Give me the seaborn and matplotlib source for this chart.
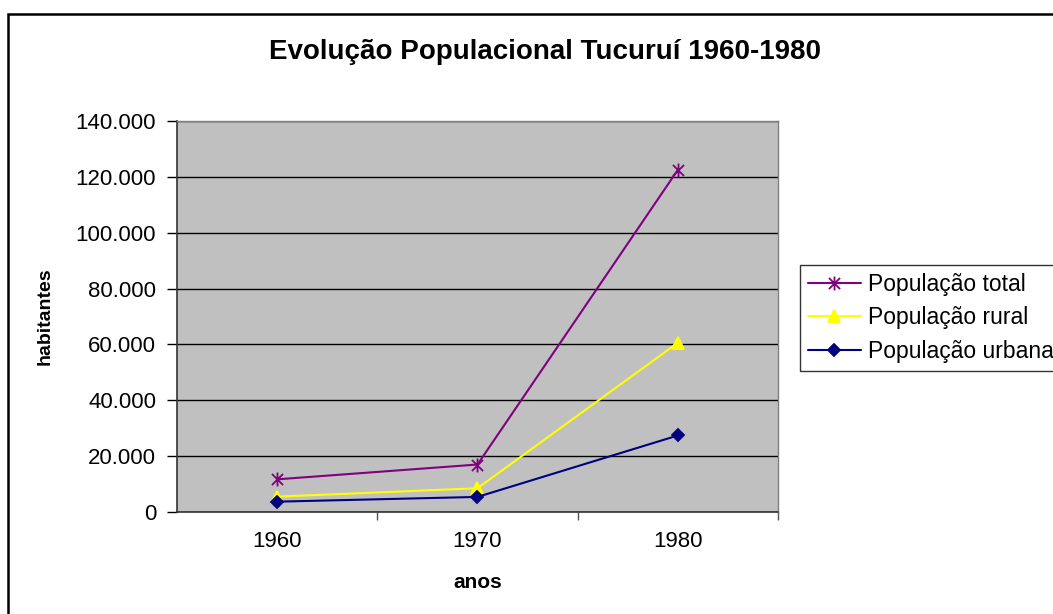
"""
    Evolução populacional de Tucuruí, 1960-1980 (estilo gráfico Excel).
"""

import pandas as pd
import matplotlib.pyplot as plt
import matplotlib.ticker as mtick
import matplotlib.patches as mpatches
from matplotlib.path import Path
import seaborn as sns

# Dados
anos = ['1960', '1970', '1980']
pop_total = [11700, 17000, 122500]
pop_rural = [5500, 8500, 60600]
pop_urbana = [3700, 5400, 27400]

series = ['População total', 'População rural', 'População urbana']

# asterisco do Excel: um X com traço vertical
ASTERISCO = Path([(0, -1), (0, 1), (-0.8, -0.8), (0.8, 0.8), (-0.8, 0.8), (0.8, -0.8)],
                 [Path.MOVETO, Path.LINETO, Path.MOVETO, Path.LINETO, Path.MOVETO, Path.LINETO])

CORES = {'População total': '#800080',
         'População rural': '#FFFF00',
         'População urbana': '#000080'}
MARCADORES = {'População total': ASTERISCO,
              'População rural': '^',
              'População urbana': 'D'}
TAMANHOS = {'População total': 10,
            'População rural': 9,
            'População urbana': 6.5}

sns.set_theme(style="white")
plt.rcParams['font.family'] = ['Liberation Sans', 'DejaVu Sans']
plt.rcParams['text.color'] = 'black'
plt.rcParams['xtick.color'] = 'black'
plt.rcParams['ytick.color'] = 'black'
plt.rcParams['axes.labelcolor'] = 'black'


def monta_dados():
    df = pd.DataFrame({'anos': anos,
                       'População total': pop_total,
                       'População rural': pop_rural,
                       'População urbana': pop_urbana})
    return df.melt(id_vars='anos', value_vars=series,
                   var_name='Série', value_name='habitantes')


df_long = monta_dados()

fig = plt.figure(figsize=(10.53, 6.14), dpi=100)
ax = fig.add_axes([177 / 1053, 1 - 512 / 614, 601 / 1053, 391 / 614])
ax.set_facecolor('#C0C0C0')

# uma chamada por série (marcadores cheios e de traço não se misturam)
for s in series:
    sub = df_long[df_long['Série'] == s]
    sns.lineplot(data=sub, x='anos', y='habitantes', color=CORES[s],
                 marker=MARCADORES[s], markersize=TAMANHOS[s], markeredgewidth=1.3,
                 markeredgecolor=CORES[s], linewidth=1.5, sort=False, ax=ax)

ax.set_xlim(-0.5, 2.5)
ax.set_ylim(0, 140000)
ax.yaxis.set_major_locator(mtick.MultipleLocator(20000))
ax.yaxis.set_major_formatter(mtick.FuncFormatter(lambda v, p: f"{int(v):,}".replace(",", ".")))
ax.grid(axis='y', color='black', linewidth=1.0)
ax.set_axisbelow(True)

ax.set_xticks(range(len(anos)))
ax.set_xticklabels(anos)
ax.xaxis.set_minor_locator(mtick.FixedLocator([0.5, 1.5, 2.5]))
ax.tick_params(axis='x', which='major', length=0, pad=14, labelsize=16)
ax.tick_params(axis='x', which='minor', length=6, width=1, color='#555555', direction='out', bottom=True)
ax.tick_params(axis='y', length=7, width=1, color='black', direction='out', pad=8, labelsize=16, left=True)

for side in ['top', 'right']:
    ax.spines[side].set_color('#808080')
    ax.spines[side].set_linewidth(1)
for side in ['left', 'bottom']:
    ax.spines[side].set_color('#333333')
    ax.spines[side].set_linewidth(1.2)

ax.set_xlabel('anos', fontsize=15, fontweight='bold')
ax.set_ylabel('habitantes', fontsize=14, fontweight='bold')
ax.xaxis.set_label_coords(0.5, -0.155)
ax.yaxis.set_label_coords(-0.205, 0.5)

fig.text(545 / 1053, 1 - 52 / 614, 'Evolução Populacional Tucuruí 1960-1980',
         ha='center', va='center', fontsize=20, fontweight='bold')

# legenda
handles = []
for s in series:
    h = plt.Line2D([], [], color=CORES[s], marker=MARCADORES[s], markersize=TAMANHOS[s],
                   markeredgewidth=1.3, markeredgecolor=CORES[s], linewidth=1.5, label=s)
    handles.append(h)
leg = fig.legend(handles=handles, loc='upper left',
                 bbox_to_anchor=(800 / 1053, 1 - 265 / 614),
                 frameon=True, fancybox=False, edgecolor='black', fontsize=16.5,
                 handlelength=2.3, handletextpad=0.3, labelspacing=0.45,
                 borderpad=0.35, borderaxespad=0)
leg.get_frame().set_linewidth(1.0)

# moldura do gráfico
moldura = mpatches.Rectangle((8 / 1053, -0.05), 1.1, 1 - 14 / 614 + 0.05,
                             transform=fig.transFigure, fill=False,
                             edgecolor='black', linewidth=1.8, zorder=0)
fig.patches.append(moldura)

fig.savefig('out.png', dpi=100)
plt.close(fig)
